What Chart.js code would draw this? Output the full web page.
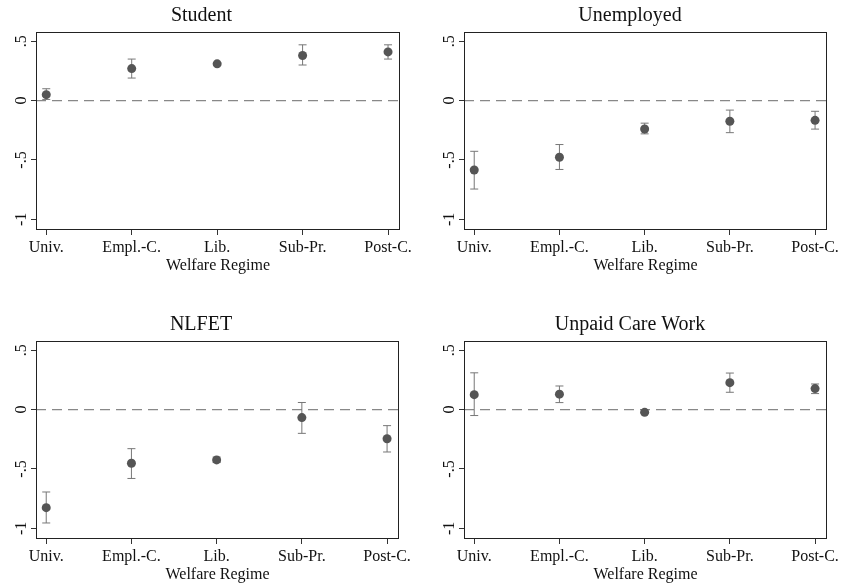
<!DOCTYPE html>
<html>
<head>
<meta charset="utf-8">
<script src="https://cdn.jsdelivr.net/npm/chart.js@4"></script>
<style>
    html, body { margin: 0; padding: 0; background: #fff; overflow: hidden; }
    canvas { position: absolute; }
</style>
</head>
<body>
<canvas id="canvas1" width="421" height="280" style="left:0px;top:0px"></canvas>
<canvas id="canvas2" width="422" height="280" style="left:421px;top:0px"></canvas>
<canvas id="canvas3" width="421" height="280" style="left:0px;top:309px"></canvas>
<canvas id="canvas4" width="422" height="280" style="left:421px;top:309px"></canvas>
<script>
// categories and tick labels
let regimes = ['Univ.', 'Empl.-C.', 'Lib.', 'Sub-Pr.', 'Post-C.'];
let yTicks = [-1, -0.5, 0, 0.5];
let yTickLabels = ['-1', '-.5', '0', '.5'];

// estimates with lower / upper bounds
let studentEst = [0.05, 0.27, 0.31, 0.38, 0.41];
let studentLo = [0.01, 0.19, 0.30, 0.30, 0.35];
let studentHi = [0.10, 0.35, 0.32, 0.47, 0.47];

let unemployedEst = [-0.585, -0.477, -0.239, -0.174, -0.166];
let unemployedLo = [-0.745, -0.58, -0.28, -0.27, -0.24];
let unemployedHi = [-0.427, -0.37, -0.19, -0.08, -0.09];

let nlfetEst = [-0.826, -0.452, -0.424, -0.067, -0.245];
let nlfetLo = [-0.955, -0.58, -0.446, -0.20, -0.357];
let nlfetHi = [-0.694, -0.329, -0.40, 0.06, -0.135];

let careEst = [0.126, 0.13, -0.023, 0.227, 0.177];
let careLo = [-0.05, 0.059, -0.033, 0.146, 0.135];
let careHi = [0.31, 0.199, -0.013, 0.308, 0.216];

const serif = 'Liberation Serif';

// draws the frame round the plot region
const boxPlugin = {
    id: 'box',
    afterDatasetsDraw(chart) {
        const a = chart.chartArea;
        const ctx = chart.ctx;
        ctx.save();
        ctx.strokeStyle = '#222';
        ctx.lineWidth = 1;
        ctx.strokeRect(Math.round(a.left) + 0.5, Math.round(a.top) + 0.5, Math.round(a.right - a.left) - 1, Math.round(a.bottom - a.top) - 1);
        ctx.restore();
    }
};

function makePanel(id, title, est, lo, hi, padL, yWidth, padR) {
    let points = est.map((v, i) => ({x: i, y: v}));
    let bars = [];
    for (let i = 0; i < est.length; i++) {
        bars.push({x: i, y: lo[i]}, {x: i, y: hi[i]}, {x: i, y: null});
    }
    let xMin = -0.12, xMax = 4.14;

    return new Chart(document.getElementById(id), {
        type: 'scatter',
        data: {
            datasets: [{
                data: points,
                backgroundColor: '#555',
                borderColor: '#555',
                pointRadius: 4.5,
                pointBorderWidth: 0
            }, {
                data: bars,
                showLine: true,
                spanGaps: false,
                borderColor: '#777',
                borderWidth: 1,
                pointStyle: 'line',
                pointRadius: 4,
                pointBorderColor: '#777',
                pointBorderWidth: 1
            }, {
                data: [{x: xMin, y: 0}, {x: xMax, y: 0}],
                showLine: true,
                borderColor: '#888',
                borderWidth: 1.4,
                borderDash: [10, 6],
                pointRadius: 0
            }]
        },
        options: {
            responsive: false,
            animation: false,
            layout: {
                padding: {left: padL, right: padR, top: 0, bottom: 0}
            },
            plugins: {
                legend: {display: false},
                tooltip: {enabled: false},
                title: {
                    display: true,
                    text: title,
                    color: '#111',
                    font: {family: serif, size: 20, weight: 'normal', lineHeight: 1.2},
                    padding: {top: 4, bottom: 4}
                }
            },
            scales: {
                x: {
                    type: 'linear',
                    min: xMin,
                    max: xMax,
                    afterBuildTicks: (scale) => {
                        scale.ticks = regimes.map((r, i) => ({value: i}));
                    },
                    afterFit: (scale) => { scale.height = 50; },
                    ticks: {
                        callback: (v, i) => regimes[i],
                        color: '#111',
                        font: {family: serif, size: 16},
                        padding: 3,
                        maxRotation: 0,
                        autoSkip: false
                    },
                    grid: {drawOnChartArea: false, drawTicks: true, tickLength: 5, color: '#333'},
                    border: {display: false},
                    title: {
                        display: true,
                        text: 'Welfare Regime',
                        color: '#111',
                        font: {family: serif, size: 16},
                        padding: {top: 0, bottom: 5}
                    }
                },
                y: {
                    min: -1.09,
                    max: 0.578,
                    afterBuildTicks: (scale) => {
                        scale.ticks = yTicks.map(v => ({value: v}));
                    },
                    afterFit: (scale) => { scale.width = yWidth; },
                    ticks: {
                        callback: (v, i) => yTickLabels[i],
                        color: '#111',
                        font: {family: serif, size: 16},
                        minRotation: 90,
                        maxRotation: 90,
                        crossAlign: 'center',
                        padding: 1
                    },
                    grid: {drawOnChartArea: false, drawTicks: true, tickLength: 5, color: '#333'},
                    border: {display: false}
                }
            }
        },
        plugins: [boxPlugin]
    });
}

document.addEventListener('DOMContentLoaded', function () {
    makePanel('canvas1', 'Student', studentEst, studentLo, studentHi, 3, 33, 21);
    makePanel('canvas2', 'Unemployed', unemployedEst, unemployedLo, unemployedHi, 12, 31, 16);
    makePanel('canvas3', 'NLFET', nlfetEst, nlfetLo, nlfetHi, 3, 33, 22);
    makePanel('canvas4', 'Unpaid Care Work', careEst, careLo, careHi, 12, 31, 16);
});
</script>
</body>
</html>
